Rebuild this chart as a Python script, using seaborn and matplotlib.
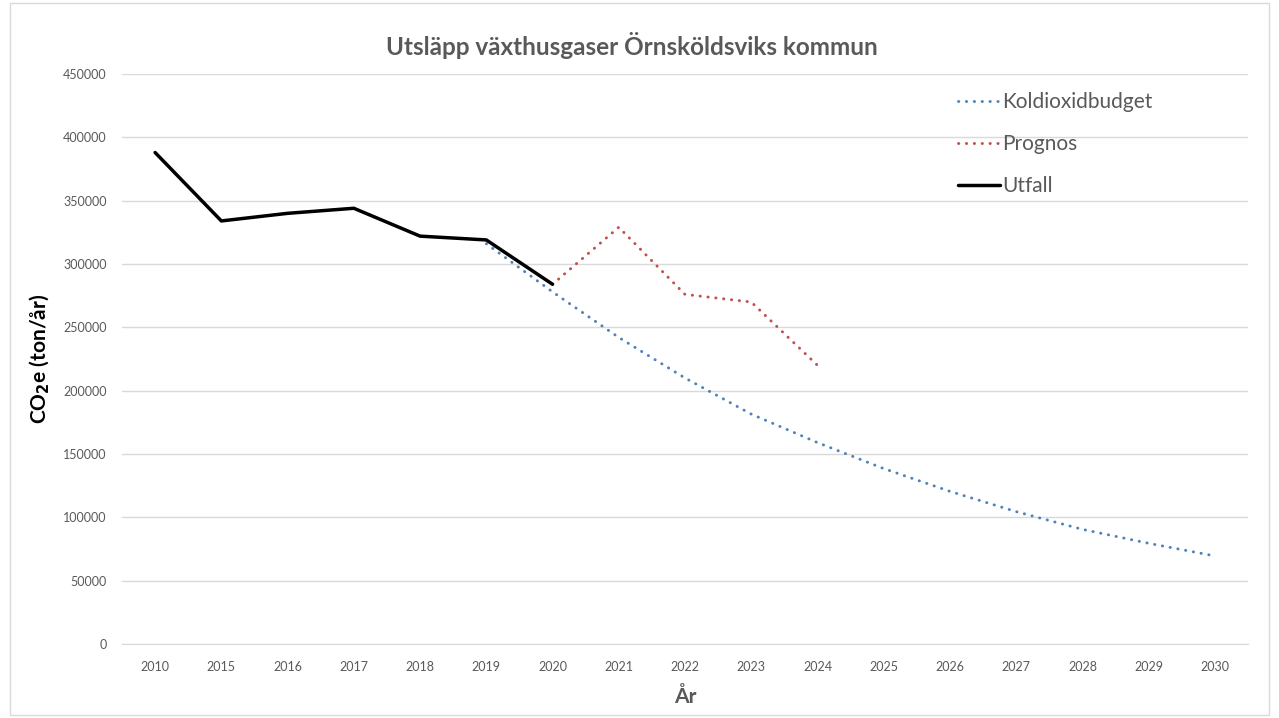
# Utsläpp växthusgaser Örnsköldsviks kommun - line chart with seaborn
import matplotlib
matplotlib.use("Agg")
import matplotlib.pyplot as plt
import matplotlib.patches as patches
import seaborn as sns
import pandas as pd

# data
years = ["2010", "2015", "2016", "2017", "2018", "2019", "2020", "2021", "2022",
         "2023", "2024", "2025", "2026", "2027", "2028", "2029", "2030"]

utfall_years = ["2010", "2015", "2016", "2017", "2018", "2019", "2020"]
utfall = [388000, 334000, 340000, 344000, 322000, 319000, 284000]

prognos_years = ["2020", "2021", "2022", "2023", "2024"]
prognos = [284000, 329000, 276000, 270000, 220000]

budget_years = ["2019", "2020", "2021", "2022", "2023", "2024", "2025",
                "2026", "2027", "2028", "2029", "2030"]
budget = [316000, 278000, 242000, 210000, 181500, 159000, 138500,
          120500, 104500, 90500, 79500, 69500]

gray = "#595959"
blue = "#4f81bd"
red = "#c0504d"

sns.set_style("white")
plt.rcParams["font.family"] = ["Lato", "DejaVu Sans"]

fig = plt.figure(figsize=(12.79, 7.18), dpi=100)
ax = fig.add_axes([122 / 1279, 1 - 644 / 718, (1248 - 122) / 1279, (644 - 74) / 718])

pos = {y: i for i, y in enumerate(years)}
df_b = pd.DataFrame({"x": [pos[y] for y in budget_years], "v": budget})
df_p = pd.DataFrame({"x": [pos[y] for y in prognos_years], "v": prognos})
df_u = pd.DataFrame({"x": [pos[y] for y in utfall_years], "v": utfall})

dots = (0, (0.1, 2.6))
sns.lineplot(data=df_b, x="x", y="v", ax=ax, color=blue, lw=2.1,
             label="Koldioxidbudget")
sns.lineplot(data=df_p, x="x", y="v", ax=ax, color=red, lw=2.1,
             label="Prognos")
sns.lineplot(data=df_u, x="x", y="v", ax=ax, color="black", lw=2.5,
             label="Utfall")
for ln in ax.lines[:2]:
    ln.set_linestyle(dots)
    ln.set_dash_capstyle("round")
ax.lines[2].set_zorder(5)

ax.set_xlim(-0.5, len(years) - 0.5)
ax.set_ylim(0, 450000)
ax.set_yticks(range(0, 450001, 50000))
ax.set_yticklabels([str(v) for v in range(0, 450001, 50000)], fontsize=9, color=gray)
ax.set_xticks(range(len(years)))
ax.set_xticklabels(years, fontsize=9, color=gray)
ax.set_xticks([i - 0.5 for i in range(len(years) + 1)], minor=True)
ax.tick_params(axis="x", which="major", length=0, pad=12)
ax.tick_params(axis="x", which="minor", length=5, color="#d9d9d9", width=1)
ax.tick_params(axis="y", length=5, color="#d9d9d9", width=1, pad=6)
ax.yaxis.grid(True, color="#d9d9d9", lw=1)
ax.set_axisbelow(True)

for s in ["top", "right", "left"]:
    ax.spines[s].set_visible(False)
ax.spines["bottom"].set_color("#d9d9d9")

ax.set_xlabel("År", fontsize=15, fontweight="bold", color=gray, labelpad=10)
ax.set_ylabel(r"CO$_{\mathbf{2}}$e (ton/år)", fontsize=15, fontweight="bold",
              color="black", labelpad=8)

fig.text(0.494, 0.937, "Utsläpp växthusgaser Örnsköldsviks kommun",
         ha="center", va="center", fontsize=17.5, fontweight="bold", color=gray)

leg = ax.legend(loc="upper left", bbox_to_anchor=(0.7425, 0.968), frameon=False,
                fontsize=15, handlelength=2.0, handletextpad=0.1, labelspacing=1.05,
                borderpad=0, borderaxespad=0)
for t in leg.get_texts():
    t.set_color(gray)

# chart area border
fig.patches.append(patches.Rectangle((0.008, 0.004), 0.984, 0.992,
                                     transform=fig.transFigure, fill=False,
                                     edgecolor="#d9d9d9", lw=1))

fig.savefig("out.png", dpi=100)
